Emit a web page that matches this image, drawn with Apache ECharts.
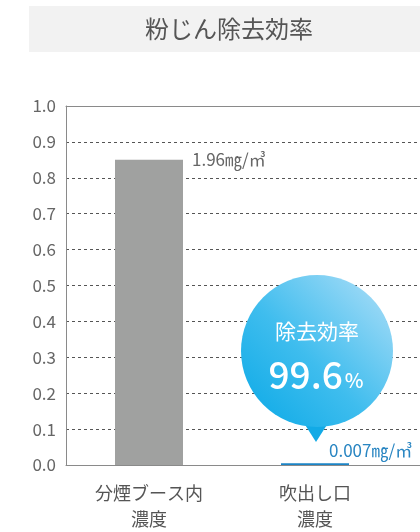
<!DOCTYPE html>
<html>
<head>
<meta charset="utf-8">
<script src="https://cdn.jsdelivr.net/npm/echarts@6/dist/echarts.min.js"></script>
<style>html,body{margin:0;padding:0;background:#fff;overflow:hidden}#c{width:600px;height:532px}</style>
</head>
<body>
<div id="c"></div>
<script>
var titleText = '粉じん除去効率';
var categories = ['分煙ブース内\n濃度', '吹出し口\n濃度'];
var barValues = [0.85, 0.005];
var concentrationLabels = ['1.96㎎/㎥', '0.007㎎/㎥'];
var concentrations = [1.96, 0.007];
var yTicks = [0, 0.1, 0.2, 0.3, 0.4, 0.5, 0.6, 0.7, 0.8, 0.9, 1.0];
var barColors = ['#a0a1a0', '#1b84c6'];
var labelColors = ['#666666', '#2a86c2'];

var efficiency = ((1 - concentrations[1] / concentrations[0]) * 100).toFixed(1);
var FONT = '"Noto Sans CJK JP", "Noto Sans", sans-serif';

var chart = echarts.init(document.getElementById('c'));
var axisCats = categories.concat(['']);
var data = barValues.map(function (v, i) {
  return {
    value: v,
    itemStyle: { color: barColors[i] },
    label: {
      show: true,
      formatter: concentrationLabels[i],
      color: labelColors[i],
      fontSize: 17,
      fontFamily: FONT,
      position: i === 0 ? [77, 0] : [48, -13],
      verticalAlign: 'middle',
      align: 'left'
    }
  };
});
data.push('-');

chart.setOption({
  animation: false,
  grid: { left: 66, top: 106, bottom: 63, width: 498, show: false },
  xAxis: [{
    type: 'category',
    data: axisCats,
    axisLine: { show: true, lineStyle: { color: '#8a8a8a' } },
    axisTick: { show: false },
    axisLabel: { color: '#555', fontSize: 18, fontFamily: FONT, lineHeight: 26, margin: 15 }
  }, {
    type: 'category',
    position: 'top',
    data: axisCats,
    axisLine: { show: true, lineStyle: { color: '#8a8a8a' } },
    axisTick: { show: false },
    axisLabel: { show: false }
  }],
  yAxis: {
    type: 'value',
    min: yTicks[0], max: yTicks[yTicks.length - 1], interval: 0.1,
    axisLine: { show: true, lineStyle: { color: '#8a8a8a' } },
    axisTick: { show: false },
    axisLabel: { color: '#666', fontSize: 17, fontFamily: FONT, margin: 10, formatter: function (v) { return v.toFixed(1); } },
    splitLine: { show: true, showMaxLine: false, showMinLine: false, lineStyle: { color: '#555', type: [3, 3], width: 1 } }
  },
  series: [{
    type: 'bar',
    barWidth: 68,
    data: data
  }],
  graphic: [
    { type: 'rect', shape: { x: 29, y: 6, width: 600, height: 46 }, style: { fill: '#f2f2f2' }, z: 0 },
    { type: 'text', x: 229, y: 29, style: { text: titleText, fill: '#555', fontSize: 24, fontFamily: FONT, align: 'center', verticalAlign: 'middle' }, z: 1 },
    { type: 'polygon', shape: { points: [[302, 420], [330, 420], [316, 442]] }, style: { fill: '#12aae6' }, z: 10 },
    { type: 'circle', shape: { cx: 317, cy: 351, r: 76 },
      style: { fill: new echarts.graphic.LinearGradient(1, 0, 0, 1, [
        { offset: 0, color: '#b3e0f8' },
        { offset: 0.55, color: '#3fbdee' },
        { offset: 1, color: '#08a8e6' }
      ]) }, z: 10 },
    { type: 'text', x: 317, y: 331, style: { text: '除去効率', fill: '#fff', fontSize: 21, fontFamily: FONT, align: 'center', verticalAlign: 'middle' }, z: 11 },
    { type: 'text', x: 316, y: 375, style: {
      text: '{n|' + efficiency + '}{p|%}', align: 'center', verticalAlign: 'middle',
      rich: {
        n: { fill: '#fff', fontSize: 37, fontWeight: 500, fontFamily: FONT },
        p: { fill: '#fff', fontSize: 20, fontWeight: 500, fontFamily: FONT, padding: [10, 0, 0, 2] }
      }
    }, z: 11 }
  ]
});
</script>
</body>
</html>
